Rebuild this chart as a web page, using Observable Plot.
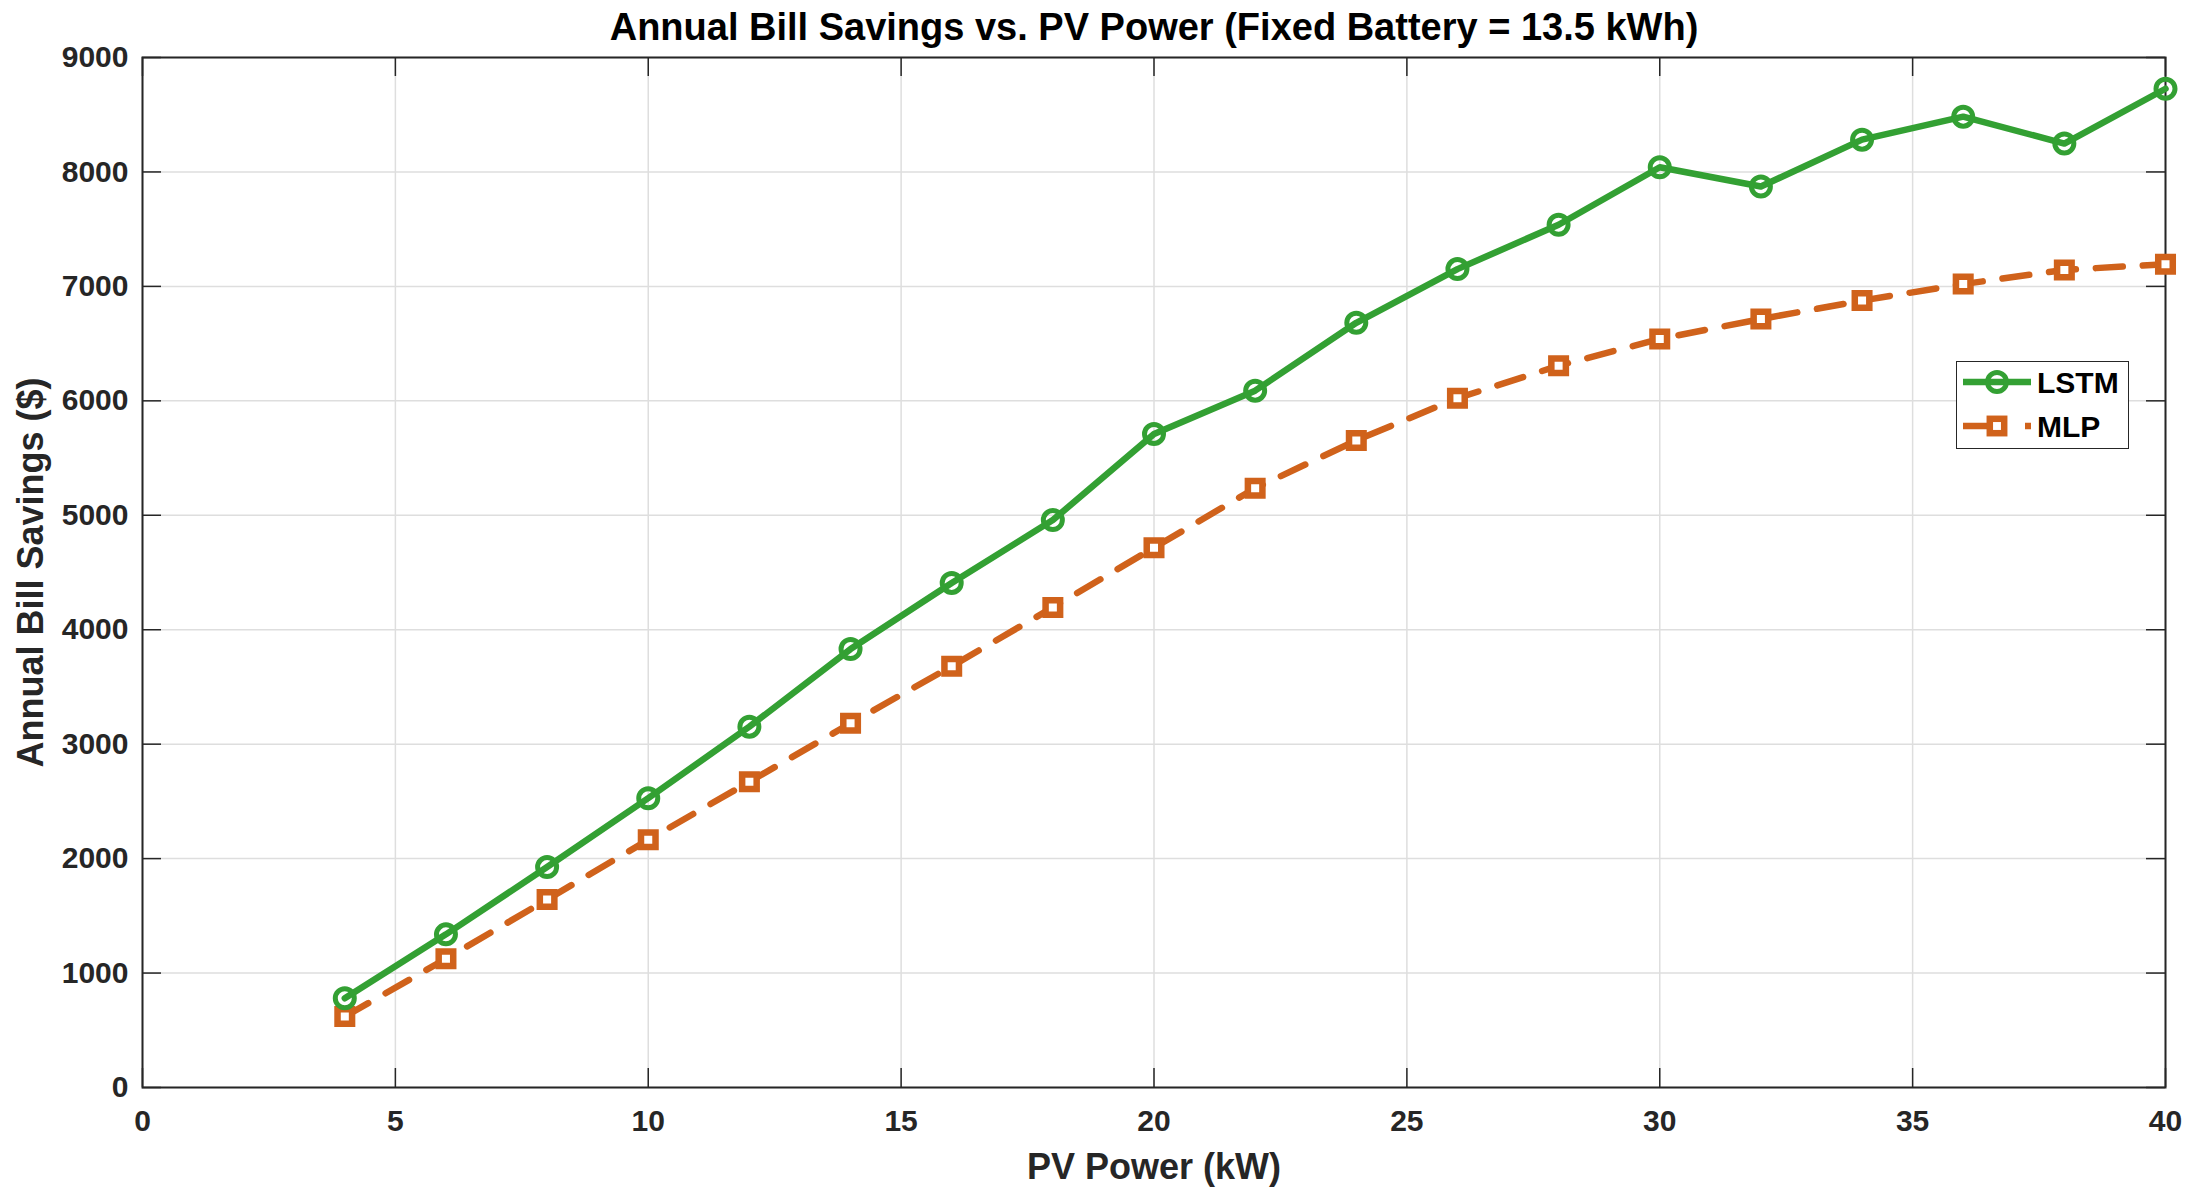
<!DOCTYPE html>
<html>
<head>
<meta charset="utf-8">
<script src="https://cdn.jsdelivr.net/npm/d3@7"></script>
<script src="https://cdn.jsdelivr.net/npm/@observablehq/plot@0.6"></script>
<style>
  html, body { margin: 0; padding: 0; background: #fff; overflow: hidden; }
  #wrap { position: relative; width: 2191px; height: 1199px; }
  #legend {
    position: absolute; left: 1956px; top: 361px; width: 171px; height: 86px;
    border: 1.5px solid #262626; background: #fff; box-sizing: content-box;
  }
</style>
</head>
<body>
<div id="wrap"></div>
<script>
const pvPower = [4, 6, 8, 10, 12, 14, 16, 18, 20, 22, 24, 26, 28, 30, 32, 34, 36, 38, 40];
const lstmSavings = [780, 1338, 1926, 2528, 3153, 3831, 4409, 4958, 5711, 6089, 6682, 7151, 7539, 8041, 7873, 8282, 8483, 8248, 8727];
const mlpSavings = [620, 1125, 1643, 2164, 2672, 3183, 3681, 4195, 4717, 5236, 5654, 6023, 6307, 6541, 6715, 6876, 7020, 7144, 7194];
const xTicks = [0, 5, 10, 15, 20, 25, 30, 35, 40];
const yTicks = [0, 1000, 2000, 3000, 4000, 5000, 6000, 7000, 8000, 9000];
const seriesNames = ["LSTM", "MLP"];
const seriesColors = ["#33a033", "#d0621b"];
const titleText = "Annual Bill Savings vs. PV Power (Fixed Battery = 13.5 kWh)";
const xLabel = "PV Power (kW)";
const yLabel = "Annual Bill Savings ($)";

const lstm = pvPower.map((x, i) => ({x, y: lstmSavings[i]}));
const mlp = pvPower.map((x, i) => ({x, y: mlpSavings[i]}));

const W = 2191, H = 1199;
const mL = 142, mR = 26, mT = 57, mB = 112;
const plotW = W - mL - mR, plotH = H - mT - mB;
const tickLen = 19;
const font = "'Liberation Sans', Arial, sans-serif";

const chart = Plot.plot({
  width: W, height: H,
  marginLeft: mL, marginRight: mR, marginTop: mT, marginBottom: mB,
  style: {fontFamily: font, fontSize: "30px", fontWeight: "bold", color: "#262626", background: "#fff"},
  x: {domain: [0, 40]},
  y: {domain: [0, 9000]},
  marks: [
    Plot.gridX(xTicks, {stroke: "#dedede", strokeOpacity: 1, strokeWidth: 1.5}),
    Plot.gridY(yTicks, {stroke: "#dedede", strokeOpacity: 1, strokeWidth: 1.5}),
    // inward ticks
    Plot.ruleX(xTicks, {x: d => d, insetTop: plotH - tickLen, stroke: "#262626", strokeWidth: 1.5}),
    Plot.ruleX(xTicks, {x: d => d, insetBottom: plotH - tickLen, stroke: "#262626", strokeWidth: 1.5}),
    Plot.ruleY(yTicks, {y: d => d, insetRight: plotW - tickLen, stroke: "#262626", strokeWidth: 1.5}),
    Plot.ruleY(yTicks, {y: d => d, insetLeft: plotW - tickLen, stroke: "#262626", strokeWidth: 1.5}),
    Plot.axisX(xTicks, {tickSize: 0, tickPadding: 22, label: null, fill: "#262626", tickFormat: d3.format("d")}),
    Plot.axisY(yTicks, {tickSize: 0, tickPadding: 14, label: null, fill: "#262626", tickFormat: d3.format("d")}),
    Plot.frame({stroke: "#262626", strokeWidth: 2}),
    // MLP
    Plot.line(mlp, {x: "x", y: "y", stroke: seriesColors[1], strokeWidth: 6.5, strokeDasharray: "27,20"}),
    Plot.dot(mlp, {x: "x", y: "y", symbol: "square", r: 8.2, stroke: seriesColors[1], strokeWidth: 6.5, fill: "#fff"}),
    // LSTM
    Plot.line(lstm, {x: "x", y: "y", stroke: seriesColors[0], strokeWidth: 6.5}),
    Plot.dot(lstm, {x: "x", y: "y", symbol: "circle", r: 9.5, stroke: seriesColors[0], strokeWidth: 5, fill: "none"}),
    // titles
    Plot.text([titleText], {text: d => d, frameAnchor: "top", dy: -30, fontSize: 38, fill: "#000", lineAnchor: "middle", textAnchor: "middle"}),
    Plot.text([xLabel], {text: d => d, frameAnchor: "bottom", dy: 80, fontSize: 36, fill: "#262626", lineAnchor: "middle", textAnchor: "middle"}),
    Plot.text([yLabel], {text: d => d, frameAnchor: "left", dx: -111, rotate: -90, fontSize: 36, fill: "#262626", lineAnchor: "middle", textAnchor: "middle"})
  ]
});

const wrap = document.getElementById("wrap");
wrap.appendChild(chart);

// legend (overlay inside the axes)
const legend = document.createElement("div");
legend.id = "legend";
const ns = "http://www.w3.org/2000/svg";
const lsvg = document.createElementNS(ns, "svg");
lsvg.setAttribute("width", 171);
lsvg.setAttribute("height", 86);
lsvg.style.display = "block";
const rowsY = [20, 64];
seriesNames.forEach((name, i) => {
  const cy = rowsY[i];
  const line = document.createElementNS(ns, "line");
  line.setAttribute("x1", 6); line.setAttribute("x2", 74);
  line.setAttribute("y1", cy); line.setAttribute("y2", cy);
  line.setAttribute("stroke", seriesColors[i]);
  line.setAttribute("stroke-width", 6.5);
  if (i === 1) line.setAttribute("stroke-dasharray", "24,38,6,20");
  lsvg.appendChild(line);
  if (i === 0) {
    const c = document.createElementNS(ns, "circle");
    c.setAttribute("cx", 40); c.setAttribute("cy", cy); c.setAttribute("r", 9.5);
    c.setAttribute("fill", "none"); c.setAttribute("stroke", seriesColors[i]); c.setAttribute("stroke-width", 5);
    lsvg.appendChild(c);
  } else {
    const s = document.createElementNS(ns, "rect");
    s.setAttribute("x", 40 - 7.2); s.setAttribute("y", cy - 7.2);
    s.setAttribute("width", 14.4); s.setAttribute("height", 14.4);
    s.setAttribute("fill", "#fff"); s.setAttribute("stroke", seriesColors[i]); s.setAttribute("stroke-width", 6.5);
    lsvg.appendChild(s);
  }
  const t = document.createElementNS(ns, "text");
  t.setAttribute("x", 80); t.setAttribute("y", cy + 10.5);
  t.setAttribute("font-family", font);
  t.setAttribute("font-weight", "bold");
  t.setAttribute("font-size", 30);
  t.setAttribute("fill", "#000");
  t.textContent = name;
  lsvg.appendChild(t);
});
legend.appendChild(lsvg);
wrap.appendChild(legend);
</script>
</body>
</html>
